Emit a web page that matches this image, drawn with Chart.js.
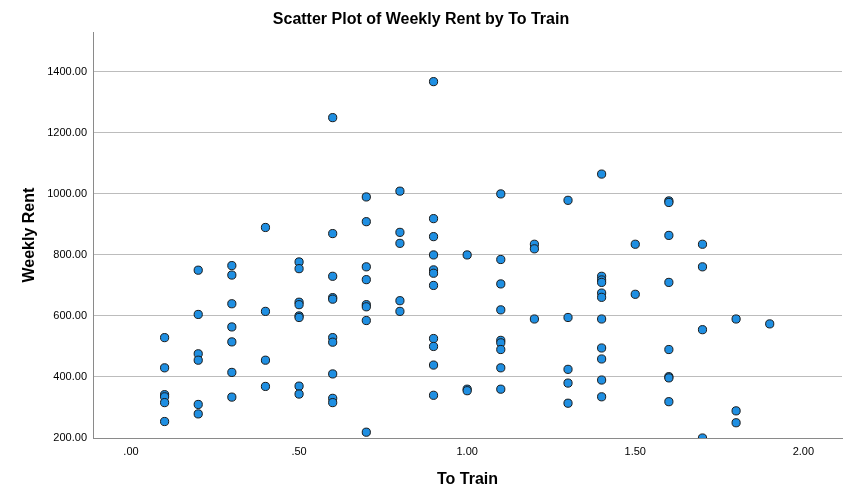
<!DOCTYPE html>
<html>
<head>
<meta charset="utf-8">
<script src="https://cdn.jsdelivr.net/npm/chart.js@4.4.1/dist/chart.umd.min.js"></script>
<style>
	html, body { margin: 0; padding: 0; background: #fff; }
	#wrap { width: 853px; height: 503px; }
</style>
</head>
<body>
<div id="wrap"><canvas id="chart"></canvas></div>
<script>
// ── Data ──────────────────────────────────────────────────────────────────────

const TO_TRAIN = [
	0.1, 0.1, 0.1, 0.1, 0.1, 0.1,
	0.2, 0.2, 0.2, 0.2, 0.2, 0.2,
	0.3, 0.3, 0.3, 0.3, 0.3, 0.3, 0.3,
	0.4, 0.4, 0.4, 0.4,
	0.5, 0.5, 0.5, 0.5, 0.5, 0.5, 0.5, 0.5,
	0.6, 0.6, 0.6, 0.6, 0.6, 0.6, 0.6, 0.6, 0.6, 0.6,
	0.7, 0.7, 0.7, 0.7, 0.7, 0.7, 0.7, 0.7,
	0.8, 0.8, 0.8, 0.8, 0.8,
	0.9, 0.9, 0.9, 0.9, 0.9, 0.9, 0.9, 0.9, 0.9, 0.9, 0.9,
	1.0, 1.0, 1.0,
	1.1, 1.1, 1.1, 1.1, 1.1, 1.1, 1.1, 1.1, 1.1,
	1.2, 1.2, 1.2,
	1.3, 1.3, 1.3, 1.3, 1.3,
	1.4, 1.4, 1.4, 1.4, 1.4, 1.4, 1.4, 1.4, 1.4, 1.4, 1.4,
	1.5, 1.5,
	1.6, 1.6, 1.6, 1.6, 1.6, 1.6, 1.6, 1.6,
	1.7, 1.7, 1.7, 1.7,
	1.8, 1.8, 1.8,
	1.9,
];

const WEEKLY_RENT = [
	529, 430, 342, 335, 316, 254,
	750, 605, 476, 455, 310, 279,
	765, 734, 640, 564, 515, 415, 334,
	890, 615, 455, 369,
	777, 755, 645, 637, 600, 595, 370, 344,
	1250, 870, 730, 660, 655, 529, 514, 410, 330, 316,
	990, 909, 761, 719, 637, 630, 585, 219,
	1009, 874, 838, 650, 615,
	1368, 919, 860, 800, 751, 740, 700, 526, 500, 439, 340,
	800, 360, 355,
	1000, 785, 705, 620, 520, 512, 490, 430, 360,
	835, 820, 590,
	979, 595, 425, 380, 314,
	1065, 730, 718, 710, 675, 661, 590, 495, 459, 390, 335,
	835, 671,
	977, 972, 864, 710, 490, 401, 397, 319,
	835, 761, 555, 200,
	590, 289, 250,
	574,
];

const X_TICKS = [0, 0.5, 1, 1.5, 2];
const Y_TICKS = [200, 400, 600, 800, 1000, 1200, 1400];

// ── Helpers ───────────────────────────────────────────────────────────────────

const FONT = '"Liberation Sans", Arial, sans-serif';

// SPSS style: ".50" instead of "0.50"
const fmtX = (v) => Number(v).toFixed(2).replace(/^0\./, '.');
const fmtY = (v) => Number(v).toFixed(2);

const points = TO_TRAIN.map((x, i) => ({ x, y: WEEKLY_RENT[i] }));

// ── Chart ─────────────────────────────────────────────────────────────────────

new Chart(document.getElementById('chart'), {
	type: 'scatter',
	data: {
		datasets: [
			{
				label: 'Weekly Rent',
				data: points,
				backgroundColor: '#1f8fe2',
				borderColor: '#1a1a1a',
				borderWidth: 1,
				pointRadius: 4.1,
				clip: 0,
			},
		],
	},
	options: {
		responsive: true,
		maintainAspectRatio: false,
		animation: false,
		layout: { padding: { left: 0, right: 11, top: 0, bottom: 0 } },
		plugins: {
			legend: { display: false },
			tooltip: { enabled: false },
			title: {
				display: true,
				text: 'Scatter Plot of Weekly Rent by To Train',
				color: '#000',
				font: { family: FONT, size: 16, weight: 'bold' },
				padding: { top: 10, bottom: 3 },
			},
		},
		scales: {
			x: {
				type: 'linear',
				min: -0.113,
				max: 2.115,
				afterBuildTicks: (s) => {
					s.ticks = X_TICKS.map((v) => ({ value: v }));
				},
				afterFit: (s) => {
					s.height = 65;
				},
				grid: { display: false, drawTicks: false },
				border: { display: true, color: '#8a8a8a', width: 1 },
				ticks: {
					color: '#000',
					font: { family: FONT, size: 11 },
					padding: 7,
					maxRotation: 0,
					callback: (v) => fmtX(v),
				},
				title: {
					display: true,
					text: 'To Train',
					color: '#000',
					font: { family: FONT, size: 16, weight: 'bold' },
					padding: { top: 0, bottom: 14 },
				},
			},
			y: {
				type: 'linear',
				min: 200,
				max: 1530,
				afterBuildTicks: (s) => {
					s.ticks = Y_TICKS.map((v) => ({ value: v }));
				},
				afterFit: (s) => {
					s.width = 93;
				},
				grid: { color: '#bcbcbc', lineWidth: 1, drawTicks: false },
				border: { display: true, color: '#8a8a8a', width: 1 },
				ticks: {
					color: '#000',
					font: { family: FONT, size: 11 },
					padding: 6,
					callback: (v) => fmtY(v),
				},
				title: {
					display: true,
					text: 'Weekly Rent',
					color: '#000',
					font: { family: FONT, size: 16, weight: 'bold' },
					padding: { top: 20, bottom: 0 },
				},
			},
		},
	},
});
</script>
</body>
</html>
